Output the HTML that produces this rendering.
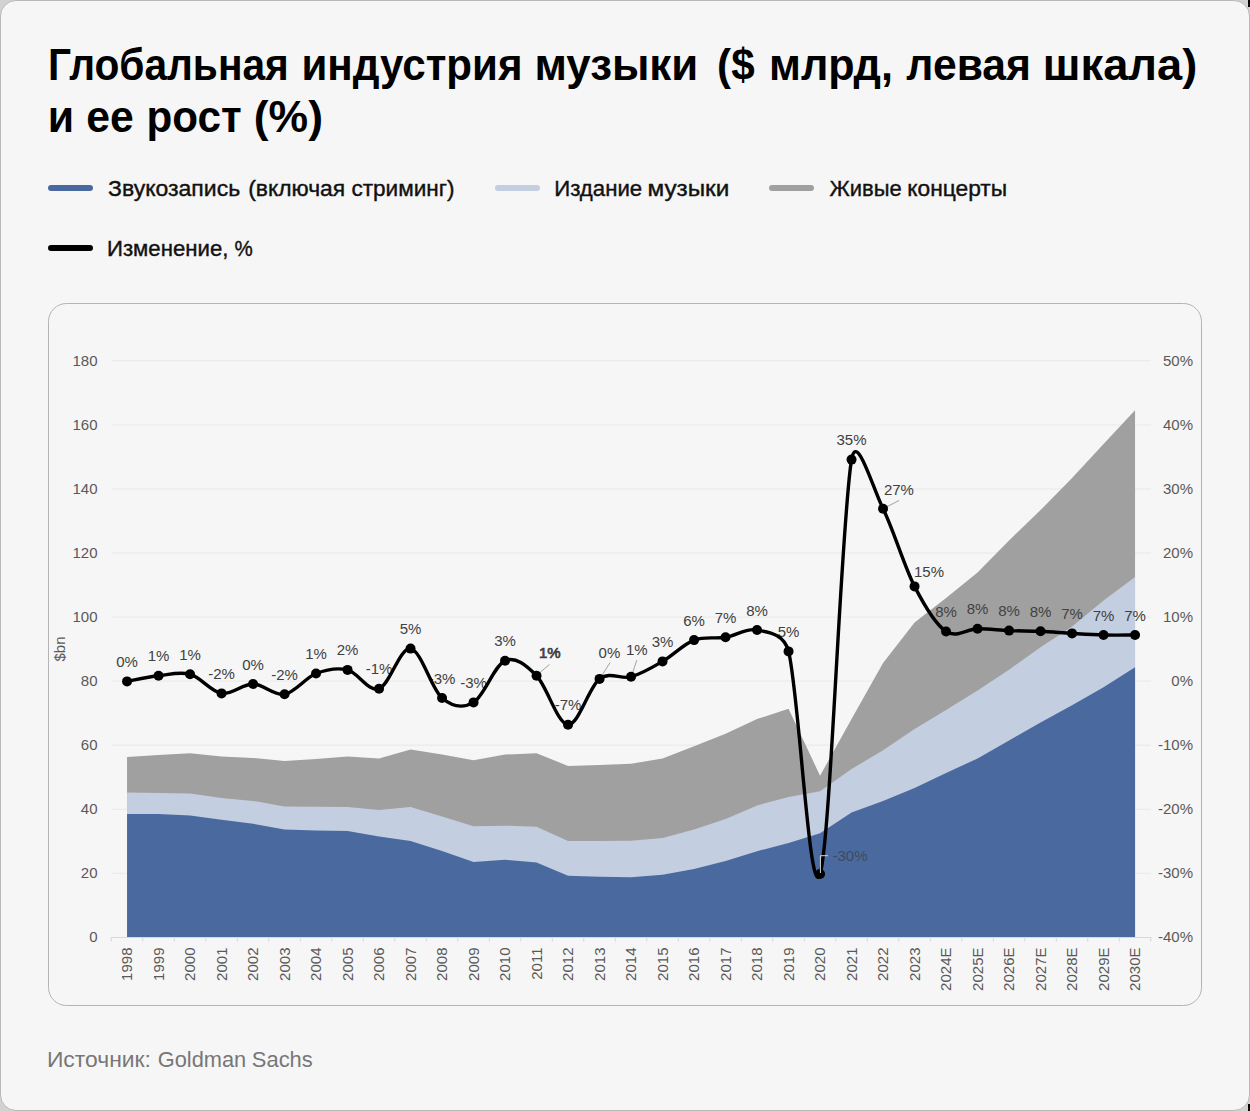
<!DOCTYPE html>
<html><head><meta charset="utf-8"><style>
html,body{margin:0;padding:0;}
body{width:1250px;height:1111px;position:relative;overflow:hidden;background:#d2d2d2;}
.card{position:absolute;left:0;top:0;width:1248px;height:1109px;border:1px solid #b9b9b9;border-radius:16px;background:#f6f6f6;}
.sw{position:absolute;width:45px;height:6px;border-radius:3px;}
.blk{position:absolute;background:#000;}
</style></head><body>
<div class="card"></div>
<div class="blk" style="left:1248px;top:0;width:2px;height:7px"></div>
<div class="blk" style="left:1248px;top:1104px;width:2px;height:7px"></div>
<div class="sw" style="left:48px;top:185px;background:#4a6a9f"></div>
<div class="sw" style="left:495px;top:185px;background:#c3cee0"></div>
<div class="sw" style="left:769px;top:185px;background:#a0a0a0"></div>
<div class="sw" style="left:48px;top:245px;background:#000"></div>
<svg width="1250" height="1111" style="position:absolute;left:0;top:0">
<rect x="48.5" y="303.5" width="1153" height="702" rx="18" ry="18" fill="none" stroke="#b4b4b4" stroke-width="1"/>
<line x1="111.5" y1="360.80" x2="1151" y2="360.80" stroke="#ececec" stroke-width="1.4"/>
<line x1="111.5" y1="424.88" x2="1151" y2="424.88" stroke="#ececec" stroke-width="1.4"/>
<line x1="111.5" y1="488.95" x2="1151" y2="488.95" stroke="#ececec" stroke-width="1.4"/>
<line x1="111.5" y1="553.03" x2="1151" y2="553.03" stroke="#ececec" stroke-width="1.4"/>
<line x1="111.5" y1="617.10" x2="1151" y2="617.10" stroke="#ececec" stroke-width="1.4"/>
<line x1="111.5" y1="681.17" x2="1151" y2="681.17" stroke="#ececec" stroke-width="1.4"/>
<line x1="111.5" y1="745.25" x2="1151" y2="745.25" stroke="#ececec" stroke-width="1.4"/>
<line x1="111.5" y1="809.33" x2="1151" y2="809.33" stroke="#ececec" stroke-width="1.4"/>
<line x1="111.5" y1="873.40" x2="1151" y2="873.40" stroke="#ececec" stroke-width="1.4"/>
<path d="M127.05,937.0 L127.05,757.10 L158.55,755.10 L190.05,753.30 L221.55,756.60 L253.05,757.90 L284.55,761.00 L316.05,758.90 L347.55,756.60 L379.05,758.40 L410.55,749.40 L442.05,754.50 L473.55,760.20 L505.05,754.50 L536.55,753.30 L568.05,765.90 L599.55,764.90 L631.05,763.80 L662.55,758.60 L694.05,746.20 L725.55,733.70 L757.05,719.10 L788.55,708.70 L820.05,775.70 L851.55,719.00 L883.05,663.00 L914.55,622.50 L946.05,598.00 L977.55,572.60 L1009.05,540.40 L1040.55,510.10 L1072.05,478.00 L1103.55,444.00 L1135.05,410.20 L1135.05,937.0 Z" fill="#a0a0a0"/>
<path d="M127.05,937.0 L127.05,792.50 L158.55,793.00 L190.05,793.50 L221.55,798.00 L253.05,800.90 L284.55,806.50 L316.05,806.80 L347.55,807.00 L379.05,810.10 L410.55,807.00 L442.05,816.50 L473.55,826.20 L505.05,825.70 L536.55,826.70 L568.05,841.00 L599.55,841.00 L631.05,840.80 L662.55,838.10 L694.05,829.40 L725.55,819.00 L757.05,805.40 L788.55,797.10 L820.05,791.30 L851.55,769.00 L883.05,750.30 L914.55,729.00 L946.05,710.00 L977.55,690.50 L1009.05,669.70 L1040.55,647.30 L1072.05,626.60 L1103.55,600.50 L1135.05,577.00 L1135.05,937.0 Z" fill="#c3cee0"/>
<path d="M127.05,937.0 L127.05,814.00 L158.55,814.00 L190.05,815.50 L221.55,819.80 L253.05,823.70 L284.55,829.60 L316.05,830.60 L347.55,830.90 L379.05,836.50 L410.55,841.00 L442.05,851.00 L473.55,862.00 L505.05,859.80 L536.55,862.60 L568.05,875.70 L599.55,876.80 L631.05,877.20 L662.55,874.70 L694.05,868.90 L725.55,861.00 L757.05,851.20 L788.55,842.90 L820.05,833.20 L851.55,812.50 L883.05,801.00 L914.55,788.00 L946.05,772.90 L977.55,758.50 L1009.05,740.40 L1040.55,722.40 L1072.05,705.20 L1103.55,687.20 L1135.05,667.30 L1135.05,937.0 Z" fill="#4a6a9f"/>
<line x1="111" y1="937.5" x2="1151" y2="937.5" stroke="#d9d9d9" stroke-width="1"/>
<line x1="111.30" y1="937" x2="111.30" y2="941.5" stroke="#d9d9d9" stroke-width="1"/>
<line x1="142.80" y1="937" x2="142.80" y2="941.5" stroke="#d9d9d9" stroke-width="1"/>
<line x1="174.30" y1="937" x2="174.30" y2="941.5" stroke="#d9d9d9" stroke-width="1"/>
<line x1="205.80" y1="937" x2="205.80" y2="941.5" stroke="#d9d9d9" stroke-width="1"/>
<line x1="237.30" y1="937" x2="237.30" y2="941.5" stroke="#d9d9d9" stroke-width="1"/>
<line x1="268.80" y1="937" x2="268.80" y2="941.5" stroke="#d9d9d9" stroke-width="1"/>
<line x1="300.30" y1="937" x2="300.30" y2="941.5" stroke="#d9d9d9" stroke-width="1"/>
<line x1="331.80" y1="937" x2="331.80" y2="941.5" stroke="#d9d9d9" stroke-width="1"/>
<line x1="363.30" y1="937" x2="363.30" y2="941.5" stroke="#d9d9d9" stroke-width="1"/>
<line x1="394.80" y1="937" x2="394.80" y2="941.5" stroke="#d9d9d9" stroke-width="1"/>
<line x1="426.30" y1="937" x2="426.30" y2="941.5" stroke="#d9d9d9" stroke-width="1"/>
<line x1="457.80" y1="937" x2="457.80" y2="941.5" stroke="#d9d9d9" stroke-width="1"/>
<line x1="489.30" y1="937" x2="489.30" y2="941.5" stroke="#d9d9d9" stroke-width="1"/>
<line x1="520.80" y1="937" x2="520.80" y2="941.5" stroke="#d9d9d9" stroke-width="1"/>
<line x1="552.30" y1="937" x2="552.30" y2="941.5" stroke="#d9d9d9" stroke-width="1"/>
<line x1="583.80" y1="937" x2="583.80" y2="941.5" stroke="#d9d9d9" stroke-width="1"/>
<line x1="615.30" y1="937" x2="615.30" y2="941.5" stroke="#d9d9d9" stroke-width="1"/>
<line x1="646.80" y1="937" x2="646.80" y2="941.5" stroke="#d9d9d9" stroke-width="1"/>
<line x1="678.30" y1="937" x2="678.30" y2="941.5" stroke="#d9d9d9" stroke-width="1"/>
<line x1="709.80" y1="937" x2="709.80" y2="941.5" stroke="#d9d9d9" stroke-width="1"/>
<line x1="741.30" y1="937" x2="741.30" y2="941.5" stroke="#d9d9d9" stroke-width="1"/>
<line x1="772.80" y1="937" x2="772.80" y2="941.5" stroke="#d9d9d9" stroke-width="1"/>
<line x1="804.30" y1="937" x2="804.30" y2="941.5" stroke="#d9d9d9" stroke-width="1"/>
<line x1="835.80" y1="937" x2="835.80" y2="941.5" stroke="#d9d9d9" stroke-width="1"/>
<line x1="867.30" y1="937" x2="867.30" y2="941.5" stroke="#d9d9d9" stroke-width="1"/>
<line x1="898.80" y1="937" x2="898.80" y2="941.5" stroke="#d9d9d9" stroke-width="1"/>
<line x1="930.30" y1="937" x2="930.30" y2="941.5" stroke="#d9d9d9" stroke-width="1"/>
<line x1="961.80" y1="937" x2="961.80" y2="941.5" stroke="#d9d9d9" stroke-width="1"/>
<line x1="993.30" y1="937" x2="993.30" y2="941.5" stroke="#d9d9d9" stroke-width="1"/>
<line x1="1024.80" y1="937" x2="1024.80" y2="941.5" stroke="#d9d9d9" stroke-width="1"/>
<line x1="1056.30" y1="937" x2="1056.30" y2="941.5" stroke="#d9d9d9" stroke-width="1"/>
<line x1="1087.80" y1="937" x2="1087.80" y2="941.5" stroke="#d9d9d9" stroke-width="1"/>
<line x1="1119.30" y1="937" x2="1119.30" y2="941.5" stroke="#d9d9d9" stroke-width="1"/>
<line x1="1150.80" y1="937" x2="1150.80" y2="941.5" stroke="#d9d9d9" stroke-width="1"/>
<text x="97.5" y="366.0" text-anchor="end" font-family='"Liberation Sans", sans-serif' font-size="15" fill="#595959">180</text>
<text x="97.5" y="430.0" text-anchor="end" font-family='"Liberation Sans", sans-serif' font-size="15" fill="#595959">160</text>
<text x="97.5" y="494.0" text-anchor="end" font-family='"Liberation Sans", sans-serif' font-size="15" fill="#595959">140</text>
<text x="97.5" y="558.0" text-anchor="end" font-family='"Liberation Sans", sans-serif' font-size="15" fill="#595959">120</text>
<text x="97.5" y="622.0" text-anchor="end" font-family='"Liberation Sans", sans-serif' font-size="15" fill="#595959">100</text>
<text x="97.5" y="686.0" text-anchor="end" font-family='"Liberation Sans", sans-serif' font-size="15" fill="#595959">80</text>
<text x="97.5" y="750.0" text-anchor="end" font-family='"Liberation Sans", sans-serif' font-size="15" fill="#595959">60</text>
<text x="97.5" y="814.0" text-anchor="end" font-family='"Liberation Sans", sans-serif' font-size="15" fill="#595959">40</text>
<text x="97.5" y="878.0" text-anchor="end" font-family='"Liberation Sans", sans-serif' font-size="15" fill="#595959">20</text>
<text x="97.5" y="942.0" text-anchor="end" font-family='"Liberation Sans", sans-serif' font-size="15" fill="#595959">0</text>
<text x="1193" y="366.0" text-anchor="end" font-family='"Liberation Sans", sans-serif' font-size="15" fill="#595959">50%</text>
<text x="1193" y="430.0" text-anchor="end" font-family='"Liberation Sans", sans-serif' font-size="15" fill="#595959">40%</text>
<text x="1193" y="494.0" text-anchor="end" font-family='"Liberation Sans", sans-serif' font-size="15" fill="#595959">30%</text>
<text x="1193" y="558.0" text-anchor="end" font-family='"Liberation Sans", sans-serif' font-size="15" fill="#595959">20%</text>
<text x="1193" y="622.0" text-anchor="end" font-family='"Liberation Sans", sans-serif' font-size="15" fill="#595959">10%</text>
<text x="1193" y="686.0" text-anchor="end" font-family='"Liberation Sans", sans-serif' font-size="15" fill="#595959">0%</text>
<text x="1193" y="750.0" text-anchor="end" font-family='"Liberation Sans", sans-serif' font-size="15" fill="#595959">-10%</text>
<text x="1193" y="814.0" text-anchor="end" font-family='"Liberation Sans", sans-serif' font-size="15" fill="#595959">-20%</text>
<text x="1193" y="878.0" text-anchor="end" font-family='"Liberation Sans", sans-serif' font-size="15" fill="#595959">-30%</text>
<text x="1193" y="942.0" text-anchor="end" font-family='"Liberation Sans", sans-serif' font-size="15" fill="#595959">-40%</text>
<text x="0" y="0" transform="translate(65,649) rotate(-90)" text-anchor="middle" font-family='"Liberation Sans", sans-serif' font-size="15" fill="#595959">$bn</text>
<text x="0" y="0" transform="translate(132.05,947.5) rotate(-90)" text-anchor="end" font-family='"Liberation Sans", sans-serif' font-size="15" fill="#595959">1998</text>
<text x="0" y="0" transform="translate(163.55,947.5) rotate(-90)" text-anchor="end" font-family='"Liberation Sans", sans-serif' font-size="15" fill="#595959">1999</text>
<text x="0" y="0" transform="translate(195.05,947.5) rotate(-90)" text-anchor="end" font-family='"Liberation Sans", sans-serif' font-size="15" fill="#595959">2000</text>
<text x="0" y="0" transform="translate(226.55,947.5) rotate(-90)" text-anchor="end" font-family='"Liberation Sans", sans-serif' font-size="15" fill="#595959">2001</text>
<text x="0" y="0" transform="translate(258.05,947.5) rotate(-90)" text-anchor="end" font-family='"Liberation Sans", sans-serif' font-size="15" fill="#595959">2002</text>
<text x="0" y="0" transform="translate(289.55,947.5) rotate(-90)" text-anchor="end" font-family='"Liberation Sans", sans-serif' font-size="15" fill="#595959">2003</text>
<text x="0" y="0" transform="translate(321.05,947.5) rotate(-90)" text-anchor="end" font-family='"Liberation Sans", sans-serif' font-size="15" fill="#595959">2004</text>
<text x="0" y="0" transform="translate(352.55,947.5) rotate(-90)" text-anchor="end" font-family='"Liberation Sans", sans-serif' font-size="15" fill="#595959">2005</text>
<text x="0" y="0" transform="translate(384.05,947.5) rotate(-90)" text-anchor="end" font-family='"Liberation Sans", sans-serif' font-size="15" fill="#595959">2006</text>
<text x="0" y="0" transform="translate(415.55,947.5) rotate(-90)" text-anchor="end" font-family='"Liberation Sans", sans-serif' font-size="15" fill="#595959">2007</text>
<text x="0" y="0" transform="translate(447.05,947.5) rotate(-90)" text-anchor="end" font-family='"Liberation Sans", sans-serif' font-size="15" fill="#595959">2008</text>
<text x="0" y="0" transform="translate(478.55,947.5) rotate(-90)" text-anchor="end" font-family='"Liberation Sans", sans-serif' font-size="15" fill="#595959">2009</text>
<text x="0" y="0" transform="translate(510.05,947.5) rotate(-90)" text-anchor="end" font-family='"Liberation Sans", sans-serif' font-size="15" fill="#595959">2010</text>
<text x="0" y="0" transform="translate(541.55,947.5) rotate(-90)" text-anchor="end" font-family='"Liberation Sans", sans-serif' font-size="15" fill="#595959">2011</text>
<text x="0" y="0" transform="translate(573.05,947.5) rotate(-90)" text-anchor="end" font-family='"Liberation Sans", sans-serif' font-size="15" fill="#595959">2012</text>
<text x="0" y="0" transform="translate(604.55,947.5) rotate(-90)" text-anchor="end" font-family='"Liberation Sans", sans-serif' font-size="15" fill="#595959">2013</text>
<text x="0" y="0" transform="translate(636.05,947.5) rotate(-90)" text-anchor="end" font-family='"Liberation Sans", sans-serif' font-size="15" fill="#595959">2014</text>
<text x="0" y="0" transform="translate(667.55,947.5) rotate(-90)" text-anchor="end" font-family='"Liberation Sans", sans-serif' font-size="15" fill="#595959">2015</text>
<text x="0" y="0" transform="translate(699.05,947.5) rotate(-90)" text-anchor="end" font-family='"Liberation Sans", sans-serif' font-size="15" fill="#595959">2016</text>
<text x="0" y="0" transform="translate(730.55,947.5) rotate(-90)" text-anchor="end" font-family='"Liberation Sans", sans-serif' font-size="15" fill="#595959">2017</text>
<text x="0" y="0" transform="translate(762.05,947.5) rotate(-90)" text-anchor="end" font-family='"Liberation Sans", sans-serif' font-size="15" fill="#595959">2018</text>
<text x="0" y="0" transform="translate(793.55,947.5) rotate(-90)" text-anchor="end" font-family='"Liberation Sans", sans-serif' font-size="15" fill="#595959">2019</text>
<text x="0" y="0" transform="translate(825.05,947.5) rotate(-90)" text-anchor="end" font-family='"Liberation Sans", sans-serif' font-size="15" fill="#595959">2020</text>
<text x="0" y="0" transform="translate(856.55,947.5) rotate(-90)" text-anchor="end" font-family='"Liberation Sans", sans-serif' font-size="15" fill="#595959">2021</text>
<text x="0" y="0" transform="translate(888.05,947.5) rotate(-90)" text-anchor="end" font-family='"Liberation Sans", sans-serif' font-size="15" fill="#595959">2022</text>
<text x="0" y="0" transform="translate(919.55,947.5) rotate(-90)" text-anchor="end" font-family='"Liberation Sans", sans-serif' font-size="15" fill="#595959">2023</text>
<text x="0" y="0" transform="translate(951.05,947.5) rotate(-90)" text-anchor="end" font-family='"Liberation Sans", sans-serif' font-size="15" fill="#595959">2024E</text>
<text x="0" y="0" transform="translate(982.55,947.5) rotate(-90)" text-anchor="end" font-family='"Liberation Sans", sans-serif' font-size="15" fill="#595959">2025E</text>
<text x="0" y="0" transform="translate(1014.05,947.5) rotate(-90)" text-anchor="end" font-family='"Liberation Sans", sans-serif' font-size="15" fill="#595959">2026E</text>
<text x="0" y="0" transform="translate(1045.55,947.5) rotate(-90)" text-anchor="end" font-family='"Liberation Sans", sans-serif' font-size="15" fill="#595959">2027E</text>
<text x="0" y="0" transform="translate(1077.05,947.5) rotate(-90)" text-anchor="end" font-family='"Liberation Sans", sans-serif' font-size="15" fill="#595959">2028E</text>
<text x="0" y="0" transform="translate(1108.55,947.5) rotate(-90)" text-anchor="end" font-family='"Liberation Sans", sans-serif' font-size="15" fill="#595959">2029E</text>
<text x="0" y="0" transform="translate(1140.05,947.5) rotate(-90)" text-anchor="end" font-family='"Liberation Sans", sans-serif' font-size="15" fill="#595959">2030E</text>
<text x="127.05" y="666.90" text-anchor="middle" font-family='"Liberation Sans", sans-serif' font-size="15" fill="#404040">0%</text>
<text x="158.55" y="661.30" text-anchor="middle" font-family='"Liberation Sans", sans-serif' font-size="15" fill="#404040">1%</text>
<text x="190.05" y="659.70" text-anchor="middle" font-family='"Liberation Sans", sans-serif' font-size="15" fill="#404040">1%</text>
<text x="221.55" y="678.90" text-anchor="middle" font-family='"Liberation Sans", sans-serif' font-size="15" fill="#404040">-2%</text>
<text x="253.05" y="669.50" text-anchor="middle" font-family='"Liberation Sans", sans-serif' font-size="15" fill="#404040">0%</text>
<text x="284.55" y="679.70" text-anchor="middle" font-family='"Liberation Sans", sans-serif' font-size="15" fill="#404040">-2%</text>
<text x="316.05" y="659.00" text-anchor="middle" font-family='"Liberation Sans", sans-serif' font-size="15" fill="#404040">1%</text>
<text x="347.55" y="655.40" text-anchor="middle" font-family='"Liberation Sans", sans-serif' font-size="15" fill="#404040">2%</text>
<text x="379.05" y="674.30" text-anchor="middle" font-family='"Liberation Sans", sans-serif' font-size="15" fill="#404040">-1%</text>
<text x="410.55" y="634.10" text-anchor="middle" font-family='"Liberation Sans", sans-serif' font-size="15" fill="#404040">5%</text>
<text x="442.05" y="683.50" text-anchor="middle" font-family='"Liberation Sans", sans-serif' font-size="15" fill="#404040">-3%</text>
<text x="473.55" y="687.90" text-anchor="middle" font-family='"Liberation Sans", sans-serif' font-size="15" fill="#404040">-3%</text>
<text x="505.05" y="646.20" text-anchor="middle" font-family='"Liberation Sans", sans-serif' font-size="15" fill="#404040">3%</text>
<text x="549.80" y="658.00" text-anchor="middle" font-family='"Liberation Sans", sans-serif' font-size="15" stroke="#404040" stroke-width="0.7" fill="#404040">1%</text>
<text x="568.05" y="710.20" text-anchor="middle" font-family='"Liberation Sans", sans-serif' font-size="15" fill="#404040">-7%</text>
<text x="609.40" y="657.50" text-anchor="middle" font-family='"Liberation Sans", sans-serif' font-size="15" fill="#404040">0%</text>
<text x="636.80" y="655.00" text-anchor="middle" font-family='"Liberation Sans", sans-serif' font-size="15" fill="#404040">1%</text>
<text x="662.55" y="646.90" text-anchor="middle" font-family='"Liberation Sans", sans-serif' font-size="15" fill="#404040">3%</text>
<text x="694.05" y="625.60" text-anchor="middle" font-family='"Liberation Sans", sans-serif' font-size="15" fill="#404040">6%</text>
<text x="725.55" y="622.80" text-anchor="middle" font-family='"Liberation Sans", sans-serif' font-size="15" fill="#404040">7%</text>
<text x="757.05" y="615.50" text-anchor="middle" font-family='"Liberation Sans", sans-serif' font-size="15" fill="#404040">8%</text>
<text x="788.55" y="636.90" text-anchor="middle" font-family='"Liberation Sans", sans-serif' font-size="15" fill="#404040">5%</text>
<text x="850.00" y="861.30" text-anchor="middle" font-family='"Liberation Sans", sans-serif' font-size="15" fill="#3e4a5c">-30%</text>
<text x="851.55" y="445.10" text-anchor="middle" font-family='"Liberation Sans", sans-serif' font-size="15" fill="#404040">35%</text>
<text x="898.90" y="495.00" text-anchor="middle" font-family='"Liberation Sans", sans-serif' font-size="15" fill="#404040">27%</text>
<text x="929.00" y="576.80" text-anchor="middle" font-family='"Liberation Sans", sans-serif' font-size="15" fill="#404040">15%</text>
<text x="946.05" y="617.00" text-anchor="middle" font-family='"Liberation Sans", sans-serif' font-size="15" fill="#404040">8%</text>
<text x="977.55" y="614.20" text-anchor="middle" font-family='"Liberation Sans", sans-serif' font-size="15" fill="#404040">8%</text>
<text x="1009.05" y="616.10" text-anchor="middle" font-family='"Liberation Sans", sans-serif' font-size="15" fill="#404040">8%</text>
<text x="1040.55" y="616.80" text-anchor="middle" font-family='"Liberation Sans", sans-serif' font-size="15" fill="#404040">8%</text>
<text x="1072.05" y="618.90" text-anchor="middle" font-family='"Liberation Sans", sans-serif' font-size="15" fill="#404040">7%</text>
<text x="1103.55" y="620.50" text-anchor="middle" font-family='"Liberation Sans", sans-serif' font-size="15" fill="#404040">7%</text>
<text x="1135.05" y="620.50" text-anchor="middle" font-family='"Liberation Sans", sans-serif' font-size="15" fill="#404040">7%</text>
<path d="M538,674 L549.5,664.5" stroke="#8c8c8c" stroke-width="0.8" fill="none"/>
<path d="M601,676.8 L610,662.7" stroke="#8c8c8c" stroke-width="0.8" fill="none"/>
<path d="M631.7,675.5 L636.8,660.2" stroke="#8c8c8c" stroke-width="0.8" fill="none"/>
<path d="M883.4,508.6 L899.2,500.4" stroke="#8c8c8c" stroke-width="0.8" fill="none"/>
<path d="M127.05,681.40 C132.30,680.47 148.05,677.00 158.55,675.80 C169.05,674.60 179.55,671.27 190.05,674.20 C200.55,677.13 211.05,691.77 221.55,693.40 C232.05,695.03 242.55,683.87 253.05,684.00 C263.55,684.13 274.05,695.95 284.55,694.20 C295.05,692.45 305.55,677.55 316.05,673.50 C326.55,669.45 337.05,667.35 347.55,669.90 C358.05,672.45 368.55,692.35 379.05,688.80 C389.55,685.25 400.05,647.07 410.55,648.60 C421.05,650.13 431.55,689.03 442.05,698.00 C452.55,706.97 463.05,708.62 473.55,702.40 C484.05,696.18 494.55,665.13 505.05,660.70 C515.55,656.27 526.05,665.13 536.55,675.80 C547.05,686.47 557.55,724.18 568.05,724.70 C578.55,725.22 589.05,686.88 599.55,678.90 C610.05,670.92 620.55,679.72 631.05,676.80 C641.55,673.88 652.05,667.52 662.55,661.40 C673.05,655.28 683.55,644.12 694.05,640.10 C704.55,636.08 715.05,638.98 725.55,637.30 C736.05,635.62 746.55,627.65 757.05,630.00 C767.55,632.35 783.79,632.96 788.55,651.40 C799.05,692.07 809.55,905.97 820.05,874.00 C830.55,842.03 841.05,520.48 851.55,459.60 C856.51,430.86 872.55,487.57 883.05,508.70 C893.55,529.83 904.05,565.93 914.55,586.40 C925.05,606.87 935.55,624.45 946.05,631.50 C956.55,638.55 967.05,628.85 977.55,628.70 C988.05,628.55 998.55,630.17 1009.05,630.60 C1019.55,631.03 1030.05,630.83 1040.55,631.30 C1051.05,631.77 1061.55,632.78 1072.05,633.40 C1082.55,634.02 1093.05,634.73 1103.55,635.00 C1114.05,635.27 1129.80,635.00 1135.05,635.00" stroke="#000" stroke-width="3.4" fill="none" stroke-linejoin="round"/>
<circle cx="127.05" cy="681.40" r="5" fill="#000"/>
<circle cx="158.55" cy="675.80" r="5" fill="#000"/>
<circle cx="190.05" cy="674.20" r="5" fill="#000"/>
<circle cx="221.55" cy="693.40" r="5" fill="#000"/>
<circle cx="253.05" cy="684.00" r="5" fill="#000"/>
<circle cx="284.55" cy="694.20" r="5" fill="#000"/>
<circle cx="316.05" cy="673.50" r="5" fill="#000"/>
<circle cx="347.55" cy="669.90" r="5" fill="#000"/>
<circle cx="379.05" cy="688.80" r="5" fill="#000"/>
<circle cx="410.55" cy="648.60" r="5" fill="#000"/>
<circle cx="442.05" cy="698.00" r="5" fill="#000"/>
<circle cx="473.55" cy="702.40" r="5" fill="#000"/>
<circle cx="505.05" cy="660.70" r="5" fill="#000"/>
<circle cx="536.55" cy="675.80" r="5" fill="#000"/>
<circle cx="568.05" cy="724.70" r="5" fill="#000"/>
<circle cx="599.55" cy="678.90" r="5" fill="#000"/>
<circle cx="631.05" cy="676.80" r="5" fill="#000"/>
<circle cx="662.55" cy="661.40" r="5" fill="#000"/>
<circle cx="694.05" cy="640.10" r="5" fill="#000"/>
<circle cx="725.55" cy="637.30" r="5" fill="#000"/>
<circle cx="757.05" cy="630.00" r="5" fill="#000"/>
<circle cx="788.55" cy="651.40" r="5" fill="#000"/>
<circle cx="820.05" cy="874.00" r="5" fill="#000"/>
<circle cx="851.55" cy="459.60" r="5" fill="#000"/>
<circle cx="883.05" cy="508.70" r="5" fill="#000"/>
<circle cx="914.55" cy="586.40" r="5" fill="#000"/>
<circle cx="946.05" cy="631.50" r="5" fill="#000"/>
<circle cx="977.55" cy="628.70" r="5" fill="#000"/>
<circle cx="1009.05" cy="630.60" r="5" fill="#000"/>
<circle cx="1040.55" cy="631.30" r="5" fill="#000"/>
<circle cx="1072.05" cy="633.40" r="5" fill="#000"/>
<circle cx="1103.55" cy="635.00" r="5" fill="#000"/>
<circle cx="1135.05" cy="635.00" r="5" fill="#000"/>
<path d="M820.4,873 L820.4,855.7 L828,855.7" stroke="#d8d8d8" stroke-width="1" fill="none"/>
<text x="48.11" y="80.3" font-family='"Liberation Sans", sans-serif' font-size="45" font-weight="bold" fill="#000" textLength="240.70" lengthAdjust="spacingAndGlyphs">Глобальная</text>
<text x="301.39" y="80.3" font-family='"Liberation Sans", sans-serif' font-size="45" font-weight="bold" fill="#000" textLength="221.15" lengthAdjust="spacingAndGlyphs">индустрия</text>
<text x="534.56" y="80.3" font-family='"Liberation Sans", sans-serif' font-size="45" font-weight="bold" fill="#000" textLength="163.65" lengthAdjust="spacingAndGlyphs">музыки</text>
<text x="717.10" y="80.3" font-family='"Liberation Sans", sans-serif' font-size="45" font-weight="bold" fill="#000" textLength="37.50" lengthAdjust="spacingAndGlyphs">($</text>
<text x="769.02" y="80.3" font-family='"Liberation Sans", sans-serif' font-size="45" font-weight="bold" fill="#000" textLength="123.84" lengthAdjust="spacingAndGlyphs">млрд,</text>
<text x="906.37" y="80.3" font-family='"Liberation Sans", sans-serif' font-size="45" font-weight="bold" fill="#000" textLength="124.59" lengthAdjust="spacingAndGlyphs">левая</text>
<text x="1042.84" y="80.3" font-family='"Liberation Sans", sans-serif' font-size="45" font-weight="bold" fill="#000" textLength="154.41" lengthAdjust="spacingAndGlyphs">шкала)</text>
<text x="47.83" y="132.3" font-family='"Liberation Sans", sans-serif' font-size="45" font-weight="bold" fill="#000" textLength="26.34" lengthAdjust="spacingAndGlyphs">и</text>
<text x="86.33" y="132.3" font-family='"Liberation Sans", sans-serif' font-size="45" font-weight="bold" fill="#000" textLength="47.53" lengthAdjust="spacingAndGlyphs">ее</text>
<text x="146.43" y="132.3" font-family='"Liberation Sans", sans-serif' font-size="45" font-weight="bold" fill="#000" textLength="95.13" lengthAdjust="spacingAndGlyphs">рост</text>
<text x="253.78" y="132.3" font-family='"Liberation Sans", sans-serif' font-size="45" font-weight="bold" fill="#000" textLength="69.23" lengthAdjust="spacingAndGlyphs">(%)</text>
<text x="108.05" y="195.6" font-family='"Liberation Sans", sans-serif' font-size="22.5" font-weight="normal" fill="#111" textLength="132.09" lengthAdjust="spacingAndGlyphs" stroke="#111" stroke-width="0.4">Звукозапись</text>
<text x="248.19" y="195.6" font-family='"Liberation Sans", sans-serif' font-size="22.5" font-weight="normal" fill="#111" textLength="96.99" lengthAdjust="spacingAndGlyphs" stroke="#111" stroke-width="0.4">(включая</text>
<text x="351.44" y="195.6" font-family='"Liberation Sans", sans-serif' font-size="22.5" font-weight="normal" fill="#111" textLength="103.16" lengthAdjust="spacingAndGlyphs" stroke="#111" stroke-width="0.4">стриминг)</text>
<text x="554.19" y="195.6" font-family='"Liberation Sans", sans-serif' font-size="22.5" font-weight="normal" fill="#111" textLength="87.99" lengthAdjust="spacingAndGlyphs" stroke="#111" stroke-width="0.4">Издание</text>
<text x="647.51" y="195.6" font-family='"Liberation Sans", sans-serif' font-size="22.5" font-weight="normal" fill="#111" textLength="81.77" lengthAdjust="spacingAndGlyphs" stroke="#111" stroke-width="0.4">музыки</text>
<text x="829.60" y="195.6" font-family='"Liberation Sans", sans-serif' font-size="22.5" font-weight="normal" fill="#111" textLength="72.18" lengthAdjust="spacingAndGlyphs" stroke="#111" stroke-width="0.4">Живые</text>
<text x="907.27" y="195.6" font-family='"Liberation Sans", sans-serif' font-size="22.5" font-weight="normal" fill="#111" textLength="99.90" lengthAdjust="spacingAndGlyphs" stroke="#111" stroke-width="0.4">концерты</text>
<text x="106.98" y="255.6" font-family='"Liberation Sans", sans-serif' font-size="22.5" font-weight="normal" fill="#111" textLength="121.41" lengthAdjust="spacingAndGlyphs" stroke="#111" stroke-width="0.4">Изменение,</text>
<text x="234.47" y="255.6" font-family='"Liberation Sans", sans-serif' font-size="22.5" font-weight="normal" fill="#111" textLength="18.26" lengthAdjust="spacingAndGlyphs" stroke="#111" stroke-width="0.4">%</text>
<text x="46.94" y="1067" font-family='"Liberation Sans", sans-serif' font-size="22" font-weight="normal" fill="#777" textLength="103.93" lengthAdjust="spacingAndGlyphs">Источник:</text>
<text x="157.80" y="1067" font-family='"Liberation Sans", sans-serif' font-size="22" font-weight="normal" fill="#777" textLength="88.41" lengthAdjust="spacingAndGlyphs">Goldman</text>
<text x="251.80" y="1067" font-family='"Liberation Sans", sans-serif' font-size="22" font-weight="normal" fill="#777" textLength="60.99" lengthAdjust="spacingAndGlyphs">Sachs</text>
</svg>
</body></html>
